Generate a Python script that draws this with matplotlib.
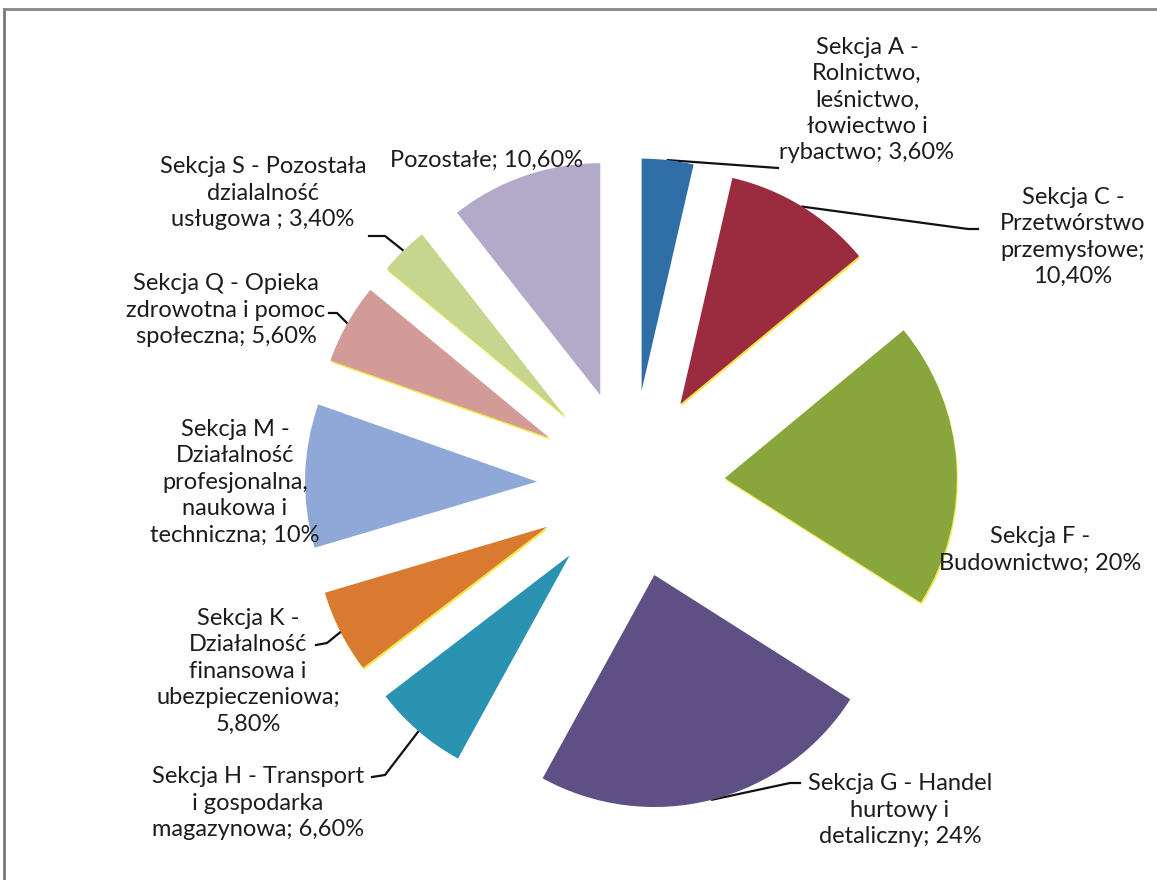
import numpy as np
import matplotlib.pyplot as plt
from matplotlib.patches import Wedge

labels = [
    "Sekcja A -\nRolnictwo,\nleśnictwo,\nłowiectwo i\nrybactwo; 3,60%",
    "Sekcja C -\nPrzetwórstwo\nprzemysłowe;\n10,40%",
    "Sekcja F -\nBudownictwo; 20%",
    "Sekcja G - Handel\nhurtowy i\ndetaliczny; 24%",
    "Sekcja H - Transport\ni gospodarka\nmagazynowa; 6,60%",
    "Sekcja K -\nDziałalność\nfinansowa i\nubezpieczeniowa;\n5,80%",
    "Sekcja M -\nDziałalność\nprofesjonalna,\nnaukowa i\ntechniczna; 10%",
    "Sekcja Q - Opieka\nzdrowotna i pomoc\nspołeczna; 5,60%",
    "Sekcja S - Pozostała\ndzialalność\nusługowa ; 3,40%",
    "Pozostałe; 10,60%",
]
values = [3.6, 10.4, 20, 24, 6.6, 5.8, 10, 5.6, 3.4, 10.6]
colors = ["#2f6ea6", "#9b2b3e", "#88a63c", "#5e4f85", "#2a93b2",
          "#d97a30", "#90a8d7", "#d39b97", "#c7d68e", "#b3a9c9"]
# slices that show a yellow fringe on their lower edge in the scan
fringe = [False, True, True, False, False, True, False, True, True, False]

W, H = 1157, 880
cx, cy = 631, 484      # pie centre in pixels
R = 232                # radius in pixels
EXPL = 0.405

fig = plt.figure(figsize=(W / 100, H / 100), dpi=100)
ax = fig.add_axes([0, 0, 1, 1])

def px(x, y):
    return ((x - cx) / R, (cy - y) / R)

wedges, _ = ax.pie(values, colors=colors, startangle=90, counterclock=False,
                   explode=[EXPL] * len(values), radius=1, frame=True,
                   wedgeprops=dict(linewidth=0, zorder=3))
ax.set_xlim(-cx / R, (W - cx) / R)
ax.set_ylim(-(H - cy) / R, cy / R)
ax.set_aspect("auto")
ax.axis("off")

# yellow misregistration fringe under some slices
for w, f in zip(wedges, fringe):
    if f:
        c = w.center
        ax.add_patch(Wedge((c[0] + 1.0 / R, c[1] - 2.0 / R), w.r, w.theta1, w.theta2,
                           color="#f2e84a", lw=0, zorder=2))

# label centres (px) and leader lines (elbow, end) in px, None = no leader
label_pos = [(867, 100), (1073, 237), (1040, 550), (900, 810), (258, 803),
             (248, 671), (235, 482), (226, 310), (263, 193), (487, 160)]
leaders = [((778, 168), (778, 168)), ((968, 229), (978, 229)), None,
           ((790, 783), (800, 783)), ((385, 775), (372, 777)),
           ((327, 643), (316, 645)), None, ((337, 313), (329, 313)),
           ((385, 236), (369, 236)), None]

txtc = "#1c1c1c"
for i, w in enumerate(wedges):
    ang = np.deg2rad((w.theta1 + w.theta2) / 2)
    tx, ty = px(*label_pos[i])
    ax.text(tx, ty, labels[i], ha="center", va="center", fontsize=17,
            family="Lato", color=txtc, linespacing=1.32)
    if leaders[i] is not None:
        r0 = 1 + EXPL
        x0, y0 = r0 * np.cos(ang), r0 * np.sin(ang)
        ex, ey = px(*leaders[i][0])
        fx, fy = px(*leaders[i][1])
        ax.plot([x0, ex, fx], [y0, ey, fy], color="#111111", lw=1.6)

# frame of the scanned chart area
fig.add_artist(plt.Line2D([4 / W, 4 / W], [0, 1 - 9 / H], color="#777777", lw=2))
fig.add_artist(plt.Line2D([4 / W, 1], [1 - 9 / H, 1 - 9 / H], color="#888888", lw=2))

fig.savefig("out.png", dpi=100)
